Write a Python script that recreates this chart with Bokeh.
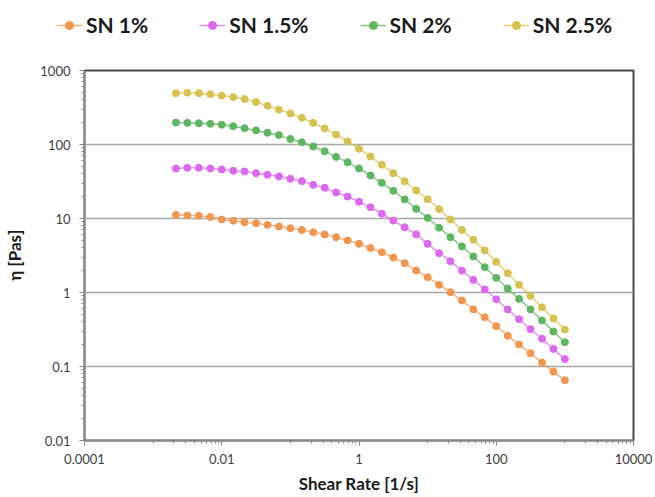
from bokeh.plotting import figure
from bokeh.models import Legend, LegendItem, FixedTicker, Range1d
from bokeh.layouts import column, row
from bokeh.embed import file_html
from bokeh.resources import INLINE

# ---- data ----
shear_rate = [0.00215, 0.00316, 0.00464, 0.00681, 0.01, 0.0147, 0.0215, 0.0316, 0.0464, 0.0681,
              0.1, 0.147, 0.215, 0.316, 0.464, 0.681, 1, 1.47, 2.15, 3.16,
              4.64, 6.81, 10, 14.7, 21.5, 31.6, 46.4, 68.1, 100, 147,
              215, 316, 464, 681, 1000]

sn_1 = [11.2, 11.0, 10.9, 10.5, 9.7, 9.3, 8.9, 8.6, 8.2, 7.8,
        7.4, 7.0, 6.5, 6.1, 5.6, 5.05, 4.55, 4.0, 3.5, 2.97,
        2.49, 1.98, 1.61, 1.27, 1.01, 0.78, 0.59, 0.463, 0.351, 0.260,
        0.198, 0.151, 0.113, 0.0855, 0.065]

sn_15 = [47.4, 48.4, 48.4, 47.4, 45.9, 44.1, 43.2, 40.9, 39.0, 37.0,
         34.4, 32.1, 28.5, 26.0, 22.5, 19.8, 16.8, 14.2, 11.6, 9.4,
         7.6, 6.1, 4.55, 3.40, 2.65, 1.98, 1.48, 1.10, 0.81, 0.59,
         0.435, 0.319, 0.237, 0.173, 0.126]

sn_2 = [198, 196, 194, 190, 185, 177, 166, 155, 144, 134,
        119, 107, 94, 81, 68, 57.7, 47.4, 38.1, 30.4, 23.7,
        18.1, 13.5, 10.2, 7.5, 5.6, 4.2, 3.06, 2.20, 1.58, 1.13,
        0.82, 0.59, 0.42, 0.297, 0.213]

sn_25 = [493, 500, 493, 478, 458, 438, 412, 375, 334, 296,
         262, 230, 196, 165, 136, 110, 87.5, 68.9, 53.2, 41.0,
         31.9, 23.9, 18.2, 13.4, 9.7, 7.0, 5.15, 3.70, 2.60, 1.82,
         1.27, 0.90, 0.63, 0.445, 0.316]

series_labels = ["SN 1%", "SN 1.5%", "SN 2%", "SN 2.5%"]
series_values = [sn_1, sn_15, sn_2, sn_25]
series_colors = ["#F0964F", "#DC68F0", "#5DB661", "#D6C24E"]

x_major = [1e-4, 1e-2, 1, 1e2, 1e4]
x_major_labels = ["0.0001", "0.01", "1", "100", "10000"]
y_major = [0.01, 0.1, 1, 10, 100, 1000]
y_major_labels = ["0.01", "0.1", "1", "10", "100", "1000"]

LEGEND_H = 45

# ---- main figure ----
p = figure(width=655, height=497 - LEGEND_H, x_axis_type="log", y_axis_type="log",
           x_range=Range1d(1e-4, 1e4), y_range=Range1d(0.01, 1000),
           output_backend="svg", toolbar_location=None,
           min_border_left=84, min_border_right=22, min_border_top=70 - LEGEND_H,
           min_border_bottom=57)

p.background_fill_color = "white"
p.border_fill_color = "white"
p.outline_line_color = "#4a4a4a"
p.outline_line_width = 2

x_minor = [k * 10.0 ** e for e in (-3, -1, 1, 3) for k in range(1, 10)]
y_minor = [k * 10.0 ** e for e in (-2, -1, 0, 1, 2) for k in range(2, 10)]

p.xaxis.ticker = FixedTicker(ticks=x_major, minor_ticks=x_minor)
p.yaxis.ticker = FixedTicker(ticks=y_major, minor_ticks=y_minor)
p.xaxis.major_label_overrides = {v: s for v, s in zip(x_major, x_major_labels)}
p.yaxis.major_label_overrides = {v: s for v, s in zip(y_major, y_major_labels)}

for ax in (p.xaxis, p.yaxis):
    ax.axis_line_color = "#8a8a8a"
    ax.axis_line_width = 1.5
    ax.major_tick_line_color = "#8a8a8a"
    ax.minor_tick_line_color = "#8a8a8a"
    ax.major_tick_out = 5
    ax.major_tick_in = 0
    ax.minor_tick_out = 3
    ax.minor_tick_in = 0
    ax.major_label_text_font = "Lato"
    ax.major_label_text_font_size = "13px"
    ax.major_label_text_color = "#404040"
    ax.axis_label_text_font = "Lato"
    ax.axis_label_text_font_style = "bold"
    ax.axis_label_text_font_size = "17px"
    ax.axis_label_text_color = "#1a1a1a"

p.xaxis.axis_label = "Shear Rate [1/s]"
p.yaxis.axis_label = "η [Pas]"
p.xaxis.major_label_standoff = 8
p.yaxis.major_label_standoff = 9
p.xaxis.axis_label_standoff = 6
p.yaxis.axis_label_standoff = 12

p.xgrid.visible = False
p.ygrid.grid_line_color = "#A8A8A8"
p.ygrid.grid_line_width = 1.5

for vals, col in zip(series_values, series_colors):
    p.line(shear_rate, vals, line_color=col, line_width=1.5, line_alpha=0.75)
    p.scatter(shear_rate, vals, size=7, fill_color=col, line_color=col)

# ---- legend strip (a separate, axis-less figure on top) ----
# its ranges are chosen so that the (real) data lies outside the view:
# only the legend swatches are visible.
lg = figure(width=655, height=LEGEND_H, x_range=Range1d(-2, -1), y_range=Range1d(-2, -1),
            output_backend="svg", toolbar_location=None,
            x_axis_location=None, y_axis_location=None,
            min_border_left=0, min_border_right=0, min_border_top=0, min_border_bottom=0)
lg.outline_line_color = None
lg.xgrid.visible = False
lg.ygrid.visible = False

items = []
for label, vals, col in zip(series_labels, series_values, series_colors):
    ln = lg.line(shear_rate, vals, line_color=col, line_width=1.5, line_alpha=0.75)
    sc = lg.scatter(shear_rate, vals, size=7, fill_color=col, line_color=col)
    items.append(LegendItem(label=label, renderers=[ln, sc]))

legend = Legend(items=items, orientation="horizontal", location=(56, 8),
                padding=0, margin=0, spacing=51, glyph_width=26, glyph_height=20,
                label_standoff=4, border_line_color=None, background_fill_alpha=0,
                label_text_font="Lato", label_text_font_style="bold",
                label_text_font_size="21px", label_text_color="#1a1a1a")
lg.add_layout(legend)

layout = column(row(lg), p, spacing=0)
open("out.html", "w").write(file_html(layout, INLINE))
